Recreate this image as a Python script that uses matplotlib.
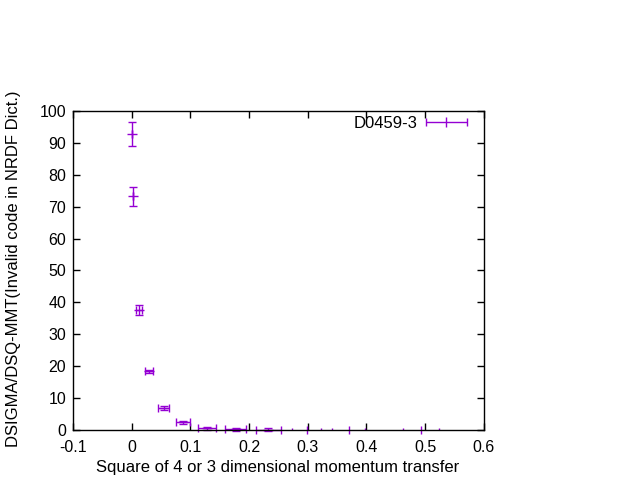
import matplotlib.pyplot as plt
import numpy as np
from matplotlib.container import ErrorbarContainer
from matplotlib.legend_handler import HandlerErrorbar

plt.rcParams['font.family'] = ['Liberation Sans', 'DejaVu Sans']

# datos
q2 = [0.001, 0.002, 0.012, 0.029, 0.0545, 0.087, 0.128, 0.177, 0.233]
q2_err = [0.0, 0.0, 0.005, 0.007, 0.009, 0.012, 0.015, 0.018, 0.021]
dsig = [92.7, 73.3, 37.5, 18.4, 6.9, 2.5, 0.5, 0.25, 0.15]
dsig_err = [3.8, 3.0, 1.6, 0.5, 0.6, 0.5, 0.4, 0.4, 0.4]

# puntos casi nulos (solo barra vertical)
q2_cola = [0.274, 0.298, 0.323, 0.342, 0.370, 0.398, 0.463, 0.493, 0.524]
dsig_cola = [0.4, 0.0, 0.4, 0.4, 0.0, 0.4, 0.4, 0.0, 0.4]
dsig_cola_err = [0.4, 1.3, 0.4, 0.4, 1.3, 0.4, 0.4, 1.3, 0.4]

color = '#9400d3'

fig = plt.figure(figsize=(6.4, 4.8), dpi=100)
ax = fig.add_axes([0.114, 0.104, 0.642, 0.665])

ax.errorbar(q2, dsig, xerr=q2_err, yerr=dsig_err, fmt='_', color=color,
            markersize=7, markeredgewidth=1, elinewidth=1, capsize=3,
            capthick=1, clip_on=False)
ax.errorbar(q2_cola, dsig_cola, yerr=dsig_cola_err, fmt='none', ecolor=color,
            elinewidth=1, capsize=0, clip_on=False)

# muestra de leyenda
h = ax.errorbar([np.nan], [np.nan], xerr=[0.01], fmt='|', color=color,
                markersize=7, elinewidth=1, capsize=3, capthick=1, label='D0459-3')

ax.set_xlim(-0.1, 0.6)
ax.set_ylim(0, 100)
ax.set_xticks(np.arange(-0.1, 0.61, 0.1))
ax.set_xticklabels(['-0.1', '0', '0.1', '0.2', '0.3', '0.4', '0.5', '0.6'])
ax.set_yticks(np.arange(0, 101, 10))
ax.tick_params(direction='in', length=5, width=1, top=True, right=True,
               labelsize=11.5, colors='black', pad=5)
ax.tick_params(axis='x', pad=7)
for s in ax.spines.values():
    s.set_linewidth(1)

ax.set_xlabel('Square of 4 or 3 dimensional momentum transfer', fontsize=12)
ax.set_ylabel('DSIGMA/DSQ-MMT(Invalid code in NRDF Dict.)', fontsize=12)
ax.xaxis.set_label_coords(0.499, -0.116)
ax.yaxis.set_label_coords(-0.145, 0.505)
ax.xaxis.label.set_va('center')
ax.yaxis.label.set_va('center')

ax.legend(handles=[h], loc='upper right', bbox_to_anchor=(1.0, 1.034),
          frameon=False, markerfirst=False, fontsize=12, handlelength=2.6,
          borderaxespad=0.56, handletextpad=0.4,
          handler_map={ErrorbarContainer: HandlerErrorbar(xerr_size=1.23)})

fig.savefig('out.png', dpi=100)
